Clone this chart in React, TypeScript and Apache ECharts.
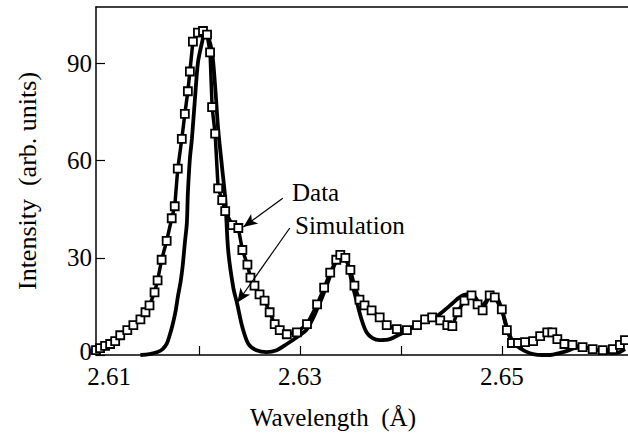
import React, { useEffect, useRef } from "react";
import * as echarts from "echarts";

const dataWavelength = [
  2.6098, 2.6102, 2.6107, 2.6112, 2.6117, 2.6122, 2.6129, 2.6135, 2.6142, 2.6147,
  2.6151, 2.6156, 2.6159, 2.6163, 2.6168, 2.6173, 2.6176, 2.6179, 2.6183, 2.6186,
  2.6189, 2.6191, 2.6194, 2.6199, 2.6204, 2.6208, 2.6211, 2.6213, 2.6216, 2.6219,
  2.6223, 2.6226, 2.6233, 2.6239, 2.6243, 2.6248, 2.6251, 2.6255, 2.626, 2.6265,
  2.627, 2.6275, 2.628, 2.6287, 2.6297, 2.6307, 2.6317, 2.6324, 2.633, 2.6336,
  2.634, 2.6345, 2.635, 2.6354, 2.6359, 2.6364, 2.6371, 2.6379, 2.6386, 2.6396,
  2.6406, 2.6416, 2.6424, 2.6431, 2.6439, 2.6446, 2.6451, 2.6456, 2.6463, 2.647,
  2.6476, 2.6481, 2.6488, 2.6493, 2.65, 2.6505, 2.651, 2.6516, 2.6523, 2.6531,
  2.6538, 2.6545, 2.655, 2.6555, 2.6562, 2.657, 2.658, 2.659, 2.66, 2.661,
  2.6617, 2.6622,
];
const dataIntensity = [
  1.5, 2.1, 2.8, 3.4, 4.3, 6.1, 7.7, 9.2, 11.0, 13.2,
  15.3, 19.3, 23.0, 29.4, 35.2, 42.2, 45.9, 57.5, 66.7, 74.4,
  81.4, 87.5, 96.7, 99.5, 100.0, 98.9, 93.4, 76.5, 68.3, 51.4,
  47.8, 44.4, 40.1, 39.2, 32.4, 27.9, 23.9, 21.4, 18.7, 16.8,
  13.2, 9.5, 7.7, 6.4, 7.0, 9.5, 15.6, 20.8, 25.4, 29.4,
  30.9, 30.0, 26.3, 21.4, 17.1, 15.3, 13.8, 11.6, 9.2, 8.0,
  7.7, 9.2, 11.0, 11.6, 10.7, 9.2, 8.9, 13.2, 16.8, 18.4,
  15.6, 13.8, 18.4, 17.8, 14.1, 7.7, 3.7, 3.7, 4.0, 4.3,
  5.8, 7.0, 7.0, 4.9, 3.4, 3.1, 2.4, 1.8, 1.5, 1.8,
  3.1, 4.6,
];

const simWavelength = [
  2.6142, 2.6151, 2.6159, 2.6164, 2.6168, 2.6171, 2.6174, 2.6177, 2.6179, 2.6182,
  2.6184, 2.6186, 2.6188, 2.6189, 2.6191, 2.6193, 2.6196, 2.6199, 2.6203, 2.6206,
  2.6209, 2.6213, 2.6216, 2.6219, 2.6223, 2.6226, 2.6229, 2.6234, 2.6238, 2.6243,
  2.6249, 2.6257, 2.6267, 2.6277, 2.6287, 2.6297, 2.6307, 2.6317, 2.6325, 2.6333,
  2.6338, 2.6342, 2.6347, 2.6351, 2.6356, 2.6361, 2.6366, 2.6372, 2.6379, 2.6389,
  2.6399, 2.6412, 2.6426, 2.6434, 2.6442, 2.6451, 2.6458, 2.6465, 2.6472, 2.648,
  2.6485, 2.649, 2.6495, 2.65, 2.6505, 2.651, 2.6515, 2.6523, 2.6531, 2.654,
  2.6548, 2.6557, 2.6564, 2.6572, 2.658, 2.659, 2.66, 2.661, 2.6617, 2.6622,
];
const simIntensity = [
  0, 0.3, 0.9, 1.8, 3.4, 6.1, 9.5, 13.8, 17.8, 23.0,
  27.9, 34.6, 40.7, 49.9, 60.6, 66.7, 79.0, 90.3, 96.4, 99.8,
  98.3, 93.4, 83.0, 69.8, 57.5, 48.4, 32.1, 20.8, 15.6, 8.6,
  3.4, 1.5, 0.9, 1.5, 3.4, 5.5, 8.0, 14.1, 20.2, 26.9,
  30.0, 30.3, 28.5, 23.0, 16.8, 11.0, 7.0, 5.2, 4.6, 4.9,
  6.4, 8.6, 11.0, 11.6, 13.5, 15.9, 17.8, 18.7, 18.4, 15.0,
  16.8, 18.4, 17.8, 14.1, 8.6, 4.6, 2.8, 1.2, 0.3, 0,
  0, 0.6, 1.2, 2.1, 2.4, 1.8, 1.2, 0.6, 0.9, 1.8,
];

const xLabelValues = [2.61, 2.63, 2.65];
const xTickValues = [2.62, 2.63, 2.64, 2.65, 2.66];
const yTickLabels = [0, 30, 60, 90];

// arrows: [tail, head] in data coordinates
const dataArrow = [[2.6283, 48.4], [2.6244, 39.5]];
const simArrow = [[2.629, 39.2], [2.6238, 16.2]];

const FONT = "'Liberation Serif', 'Times New Roman', serif";

export default function App() {
  const ref = useRef<HTMLDivElement>(null);
  useEffect(() => {
    if (!ref.current) return;
    const chart = echarts.init(ref.current, undefined, { renderer: "svg" });
    const dataPts = dataWavelength.map((w, i) => [w, dataIntensity[i]]);
    const simPts = simWavelength.map((w, i) => [w, simIntensity[i]]);
    const arrowLine = (a: number[][]) => [
      { coord: a[0], symbol: "none" },
      { coord: a[1], symbol: "arrow" },
    ];
    chart.setOption({
      animation: false,
      backgroundColor: "#fff",
      grid: { left: 96, top: 7, right: 0, bottom: 77 },
      xAxis: [
        {
          type: "value",
          min: 2.6098,
          max: 2.6625,
          name: "Wavelength  (Å)",
          nameLocation: "middle",
          nameGap: 50,
          nameTextStyle: {
            fontFamily: FONT,
            fontSize: 25,
            color: "#000",
            padding: [0, 58, 0, 0],
          },
          axisLine: { show: true, lineStyle: { color: "#000", width: 1.5 } },
          axisTick: {
            show: true,
            inside: true,
            length: 9,
            customValues: xTickValues,
            lineStyle: { color: "#000", width: 1.2 },
          },
          axisLabel: {
            customValues: xLabelValues,
            margin: 11,
            color: "#000",
            fontFamily: FONT,
            fontSize: 25,
            lineHeight: 20,
            formatter: (v: number) =>
              Math.abs(v - 2.61) < 1e-6 ? "{s|" + v.toFixed(2) + "}" : "{n|" + v.toFixed(2) + "}",
            rich: {
              s: { fontFamily: FONT, fontSize: 25, lineHeight: 20, color: "#000", padding: [0, 0, 0, 22] },
              n: { fontFamily: FONT, fontSize: 25, lineHeight: 20, color: "#000" },
            },
          },
          splitLine: { show: false },
        },
        {
          type: "value",
          position: "top",
          min: 2.6098,
          max: 2.6625,
          axisLine: { show: true, lineStyle: { color: "#000", width: 1.5 } },
          axisTick: { show: false },
          axisLabel: { show: false },
          splitLine: { show: false },
        },
      ],
      yAxis: {
        type: "value",
        min: 0,
        max: 107.4,
        interval: 30,
        name: "Intensity  (arb. units)",
        nameLocation: "middle",
        nameGap: 56,
        nameTextStyle: { fontFamily: FONT, fontSize: 26, color: "#000" },
        axisLine: { show: true, lineStyle: { color: "#000", width: 1.5 } },
        axisTick: {
          show: true,
          inside: true,
          length: 9,
          customValues: yTickLabels,
          lineStyle: { color: "#000", width: 1.2 },
        },
        axisLabel: {
          customValues: yTickLabels,
          margin: 4,
          color: "#000",
          fontFamily: FONT,
          fontSize: 25,
          lineHeight: 16,
          formatter: (v: number) => (v === 0 ? "{z|0}" : "{n|" + v + "}"),
          rich: {
            z: { fontFamily: FONT, fontSize: 25, lineHeight: 16, color: "#000", padding: [0, 0, 8, 0] },
            n: { fontFamily: FONT, fontSize: 25, lineHeight: 16, color: "#000" },
          },
        },
        splitLine: { show: false },
      },
      graphic: [
        {
          type: "text",
          left: 292,
          top: 180,
          style: { text: "Data", fontFamily: FONT, fontSize: 25, fill: "#000" },
        },
        {
          type: "text",
          left: 295,
          top: 213,
          style: { text: "Simulation", fontFamily: FONT, fontSize: 25, fill: "#000" },
        },
      ],
      series: [
        {
          name: "Simulation",
          type: "line",
          data: simPts,
          smooth: 0.3,
          showSymbol: false,
          lineStyle: { color: "#000", width: 3.8 },
          z: 2,
        },
        {
          name: "Data",
          type: "line",
          data: dataPts,
          symbol: "rect",
          symbolSize: 8,
          showAllSymbol: true,
          lineStyle: { color: "#000", width: 3.5 },
          itemStyle: { color: "#fff", borderColor: "#000", borderWidth: 1.8 },
          z: 3,
          markLine: {
            silent: true,
            symbolSize: [9, 14],
            label: { show: false },
            lineStyle: { color: "#000", width: 1.2, type: "solid" },
            data: [arrowLine(dataArrow), arrowLine(simArrow)],
          },
        },
      ],
    });
    return () => chart.dispose();
  }, []);
  return (
    <div
      ref={ref}
      style={{ position: "absolute", left: 0, top: 0, width: 628, height: 435 }}
    />
  );
}
